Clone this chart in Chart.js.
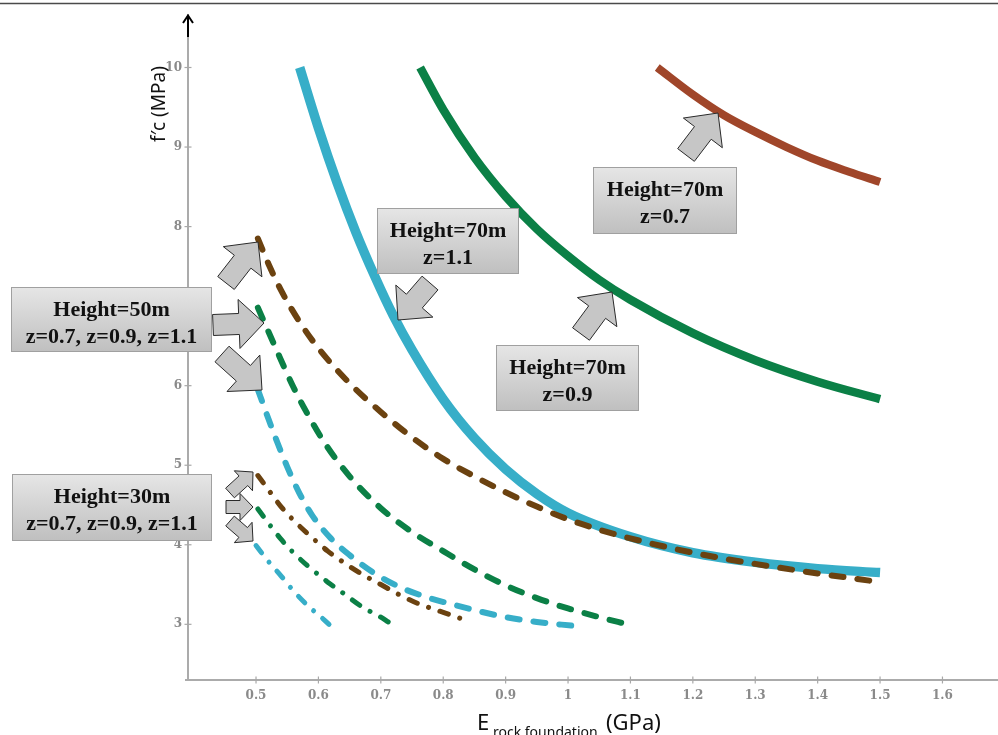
<!DOCTYPE html>
<html><head><meta charset="utf-8">
<script src="https://cdn.jsdelivr.net/npm/chart.js@4/dist/chart.umd.min.js"></script>
<style>html,body{margin:0;padding:0;background:#fff;overflow:hidden}#wrap{position:relative;width:998px;height:735px}canvas{display:block}</style>
</head><body><div id="wrap"><canvas id="c" width="998" height="735"></canvas></div>
<script>
// ---- Data ----
const xTickValues = [0.5,0.6,0.7,0.8,0.9,1.0,1.1,1.2,1.3,1.4,1.5,1.6];
const xTickLabels = ['0.5','0.6','0.7','0.8','0.9','1','1.1','1.2','1.3','1.4','1.5','1.6'];
const yTickValues = [3,4,5,6,7,8,9,10];
const yTickLabels = ['3','4','5','6','7','8','9','10'];

// Height = 70 m
const h70z07E = [1.143,1.2,1.25,1.3,1.35,1.4,1.45,1.5];
const h70z07F = [10.0,9.66,9.40,9.19,9.00,8.83,8.69,8.56];
const h70z09E = [0.763,0.8,0.85,0.9,0.95,1.0,1.05,1.1,1.2,1.3,1.4,1.5];
const h70z09F = [10.0,9.47,8.87,8.38,7.97,7.63,7.33,7.08,6.66,6.32,6.05,5.83];
const h70z11E = [0.57,0.6,0.63,0.66,0.69,0.72,0.75,0.8,0.85,0.9,0.95,1.0,1.1,1.2,1.3,1.4,1.5];
const h70z11F = [10.0,9.24,8.55,7.93,7.38,6.88,6.45,5.83,5.34,4.95,4.64,4.40,4.10,3.90,3.78,3.70,3.65];
// Height = 50 m
const h50z07E = [0.503,0.52,0.54,0.57,0.6,0.65,0.7,0.75,0.8,0.85,0.9,0.95,1.0,1.05,1.1,1.2,1.3,1.4,1.5];
const h50z07F = [7.85,7.53,7.2,6.8,6.47,6.03,5.67,5.35,5.08,4.86,4.66,4.48,4.32,4.19,4.08,3.9,3.76,3.64,3.53];
const h50z09E = [0.503,0.53,0.56,0.58,0.61,0.65,0.7,0.75,0.8,0.85,0.9,0.95,1.0,1.05,1.095];
const h50z09F = [6.98,6.5,5.98,5.68,5.28,4.86,4.46,4.16,3.92,3.69,3.49,3.33,3.2,3.09,3.0];
const h50z11E = [0.503,0.52,0.535,0.55,0.57,0.59,0.62,0.65,0.69,0.73,0.77,0.82,0.86,0.9,0.95,1.01];
const h50z11F = [5.95,5.58,5.27,4.98,4.64,4.37,4.08,3.87,3.64,3.47,3.35,3.24,3.16,3.09,3.03,2.98];
// Height = 30 m
const h30z07E = [0.503,0.52,0.54,0.565,0.59,0.615,0.64,0.67,0.7,0.73,0.76,0.8,0.84];
const h30z07F = [4.87,4.69,4.48,4.27,4.09,3.92,3.78,3.63,3.5,3.37,3.26,3.15,3.04];
const h30z09E = [0.503,0.52,0.54,0.56,0.585,0.615,0.64,0.67,0.7,0.712];
const h30z09F = [4.45,4.27,4.07,3.9,3.72,3.53,3.39,3.22,3.09,3.03];
const h30z11E = [0.5,0.52,0.54,0.56,0.585,0.6,0.617];
const h30z11F = [3.99,3.79,3.61,3.42,3.22,3.12,3.0];

// ---- Styles ----
const CYAN = '#37aec8', GREEN = '#0b8046', BROWN = '#a0462a', DBROWN = '#6b4210';
const DASH = [12,14], DASHDOT = [9,12,0.01,12];

function series(label, xs, ys, color, width, dash) {
  return {
    label, data: xs.map((x,i)=>({x, y: ys[i]})),
    borderColor: color, borderWidth: width, borderDash: dash || [],
    borderCapStyle: dash ? 'round' : 'butt', borderJoinStyle: 'round',
    pointRadius: 0, fill: false, cubicInterpolationMode: 'monotone'
  };
}

// first dataset is drawn on top
const datasets = [
  series('H30 z0.7', h30z07E, h30z07F, DBROWN, 5, DASHDOT),
  series('H30 z0.9', h30z09E, h30z09F, GREEN, 5, DASHDOT),
  series('H30 z1.1', h30z11E, h30z11F, CYAN, 5, DASHDOT),
  series('H50 z0.7', h50z07E, h50z07F, DBROWN, 6, DASH),
  series('H50 z0.9', h50z09E, h50z09F, GREEN, 6, DASH),
  series('H50 z1.1', h50z11E, h50z11F, CYAN, 6, DASH),
  series('H70 z0.7', h70z07E, h70z07F, BROWN, 8, null),
  series('H70 z0.9', h70z09E, h70z09F, GREEN, 8.5, null),
  series('H70 z1.1', h70z11E, h70z11F, CYAN, 9.5, null),
];

// ---- Annotations (layout) ----
const boxes = [
  {x:593,y:167,w:144,h:67, lines:['Height=70m','z=0.7']},
  {x:377,y:208,w:142,h:66, lines:['Height=70m','z=1.1']},
  {x:496,y:345,w:143,h:66, lines:['Height=70m','z=0.9']},
  {x:11,y:287,w:201,h:65, lines:['Height=50m','z=0.7, z=0.9, z=1.1']},
  {x:12,y:474,w:200,h:67, lines:['Height=30m','z=0.7, z=0.9, z=1.1']},
];
const BIG = {shaft:21, head:49, headLen:25}, SMALL = {shaft:13, head:27, headLen:13};
const arrows = [
  {t:[686,155], p:[718,113], s:BIG},
  {t:[581,334], p:[612,292], s:BIG},
  {t:[430,283], p:[398,320], s:BIG},
  {t:[226,283], p:[258,242], s:BIG},
  {t:[213,325], p:[264,323], s:BIG},
  {t:[222,354], p:[262,390], s:BIG},
  {t:[230,493], p:[253,472], s:SMALL},
  {t:[226,507], p:[253,507], s:SMALL},
  {t:[230,521], p:[253,541], s:SMALL},
];

function blockArrow(ctx, a) {
  const [tx,ty] = a.t, [px,py] = a.p;
  const dx = px-tx, dy = py-ty, L = Math.hypot(dx,dy);
  const ux = dx/L, uy = dy/L, nx = -uy, ny = ux;
  const s = a.s, sw = s.shaft/2, hw = s.head/2;
  const bx = px - ux*s.headLen, by = py - uy*s.headLen;
  const pts = [
    [tx+nx*sw, ty+ny*sw], [bx+nx*sw, by+ny*sw], [bx+nx*hw, by+ny*hw], [px,py],
    [bx-nx*hw, by-ny*hw], [bx-nx*sw, by-ny*sw], [tx-nx*sw, ty-ny*sw]
  ];
  ctx.beginPath();
  pts.forEach((q,i)=> i ? ctx.lineTo(q[0],q[1]) : ctx.moveTo(q[0],q[1]));
  ctx.closePath();
  ctx.fillStyle = '#c6c6c6'; ctx.fill();
  ctx.strokeStyle = '#2a2a2a'; ctx.lineWidth = 1; ctx.stroke();
}

const deco = {
  id: 'deco',
  afterDraw(chart) {
    const {ctx, chartArea:ca, scales:{x, y}} = chart;
    ctx.save();
    // top frame line
    ctx.strokeStyle = '#4a4a4a'; ctx.lineWidth = 1.5;
    ctx.beginPath(); ctx.moveTo(0,3.5); ctx.lineTo(998,3.5); ctx.stroke();
    // x axis extends a little left of the y axis
    ctx.strokeStyle = '#ababab'; ctx.lineWidth = 2;
    ctx.beginPath(); ctx.moveTo(ca.left-3, ca.bottom); ctx.lineTo(ca.left, ca.bottom); ctx.stroke();
    // crossing tick marks
    ctx.strokeStyle = '#a8a8a8'; ctx.lineWidth = 1.2;
    xTickValues.forEach(v => { const px = x.getPixelForValue(v); ctx.beginPath(); ctx.moveTo(px, ca.bottom-3.5); ctx.lineTo(px, ca.bottom+3.5); ctx.stroke(); });
    yTickValues.forEach(v => { const py = y.getPixelForValue(v); ctx.beginPath(); ctx.moveTo(ca.left-3.5, py); ctx.lineTo(ca.left+3.5, py); ctx.stroke(); });
    // y axis arrow
    ctx.strokeStyle = '#000'; ctx.lineWidth = 2;
    ctx.beginPath(); ctx.moveTo(ca.left, 37); ctx.lineTo(ca.left, 16); ctx.stroke();
    ctx.beginPath(); ctx.moveTo(ca.left-5, 23); ctx.lineTo(ca.left, 15.5); ctx.lineTo(ca.left+5, 23); ctx.stroke();
    // axis titles
    ctx.fillStyle = '#111';
    ctx.save();
    ctx.translate(160, 104); ctx.rotate(-Math.PI/2);
    ctx.font = '19px "Noto Sans"'; ctx.textAlign = 'center'; ctx.textBaseline = 'middle';
    ctx.fillText('f\u2032c (MPa)', 0, 0);
    ctx.restore();
    ctx.textAlign = 'left'; ctx.textBaseline = 'alphabetic';
    ctx.font = '22px "Noto Sans"'; ctx.fillText('E', 477, 730);
    ctx.font = '14px "Noto Sans"'; ctx.fillText('rock foundation', 493, 737);
    ctx.font = '22px "Noto Sans"'; ctx.fillText('(GPa)', 606, 730);
    // arrows
    arrows.forEach(a => blockArrow(ctx, a));
    // boxes
    boxes.forEach(b => {
      const g = ctx.createLinearGradient(0, b.y, 0, b.y+b.h);
      g.addColorStop(0, '#e6e6e6'); g.addColorStop(1, '#bfbfbf');
      ctx.fillStyle = g; ctx.fillRect(b.x, b.y, b.w, b.h);
      ctx.strokeStyle = '#a0a0a0'; ctx.lineWidth = 1; ctx.strokeRect(b.x+0.5, b.y+0.5, b.w-1, b.h-1);
      ctx.fillStyle = '#111'; ctx.font = 'bold 22px "Liberation Serif"'; ctx.textAlign = 'center';
      ctx.fillText(b.lines[0], b.x+b.w/2, b.y+29);
      ctx.fillText(b.lines[1], b.x+b.w/2, b.y+56);
    });
    ctx.restore();
  }
};

new Chart(document.getElementById('c'), {
  type: 'line',
  data: { datasets },
  options: {
    responsive: false, animation: false, devicePixelRatio: 1,
    layout: { padding: { top: 15, right: 0, left: 0, bottom: 0 } },
    plugins: { legend: { display: false }, tooltip: { enabled: false } },
    scales: {
      x: {
        type: 'linear', min: 0.391, max: 1.689,
        afterBuildTicks: s => { s.ticks = xTickValues.map(v => ({value: v})); },
        afterFit: s => { s.height = 55; },
        grid: { display: false, drawTicks: false },
        border: { display: true, color: '#ababab', width: 2 },
        ticks: { padding: 9, color: '#8a8a8a', font: { family: 'DejaVu Serif', size: 12, weight: 'bold' },
          callback: (v, i) => xTickLabels[i] }
      },
      y: {
        type: 'linear', min: 2.30, max: 10.66,
        afterBuildTicks: s => { s.ticks = yTickValues.map(v => ({value: v})); },
        afterFit: s => { s.width = 188; },
        grid: { display: false, drawTicks: false },
        border: { display: true, color: '#ababab', width: 2 },
        ticks: { padding: 6, color: '#8a8a8a', font: { family: 'DejaVu Serif', size: 12, weight: 'bold' },
          callback: (v, i) => yTickLabels[i] }
      }
    }
  },
  plugins: [deco]
});
</script></body></html>
